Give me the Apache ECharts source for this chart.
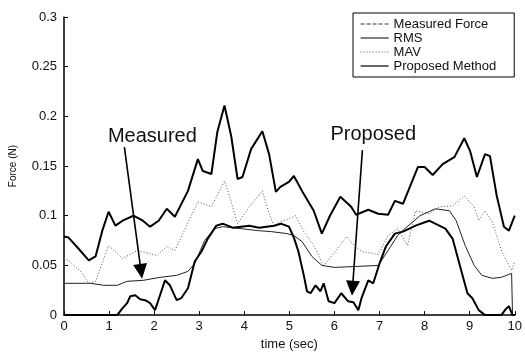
<!DOCTYPE html>
<html>
<head>
<meta charset="utf-8">
<script src="https://cdn.jsdelivr.net/npm/echarts@6/dist/echarts.min.js"></script>
<style>
html,body{margin:0;padding:0;background:#fff;}
#chart{width:525px;height:356px;}
</style>
</head>
<body>
<div id="chart"></div>
<script>
// ---- data (time in s, force in N) ----
var seriesNames = ['Measured Force', 'RMS', 'MAV', 'Proposed Method'];
var xTicks = [0,1,2,3,4,5,6,7,8,9,10];
var yTicks = [0,0.05,0.1,0.15,0.2,0.25,0.3];

var measuredData = [
  [0,0.032],[0.59,0.032],[0.88,0.030],[1.18,0.030],[1.4,0.034],[1.76,0.035],[2.13,0.038],[2.5,0.040],
  [2.75,0.044],[2.9,0.052],[3.12,0.075],[3.34,0.087],[3.52,0.089],[3.93,0.087],[4.3,0.085],[4.6,0.084],
  [4.95,0.082],[5.1,0.080],[5.28,0.074],[5.5,0.059],[5.72,0.050],[6.0,0.048],[6.5,0.049],[6.97,0.050],
  [7.19,0.065],[7.4,0.080],[7.56,0.087],[7.9,0.100],[8.24,0.107],[8.55,0.105],[8.7,0.095],[8.9,0.070],
  [9.1,0.050],[9.27,0.040],[9.5,0.037],[9.7,0.038],[9.93,0.042],[9.95,0.0],[10,0.0]
];
var rmsData = [
  [0,0.079],[0.1,0.078],[0.3,0.068],[0.55,0.055],[0.7,0.059],[0.85,0.085],[0.99,0.104],[1.14,0.090],
  [1.3,0.095],[1.54,0.100],[1.75,0.095],[1.91,0.089],[2.1,0.095],[2.28,0.107],[2.46,0.099],[2.75,0.125],
  [2.97,0.157],[3.08,0.145],[3.27,0.142],[3.4,0.184],[3.56,0.211],[3.71,0.180],[3.85,0.137],[3.96,0.139],
  [4.15,0.167],[4.4,0.185],[4.55,0.162],[4.7,0.124],[4.8,0.129],[4.99,0.134],[5.1,0.140],[5.28,0.125],
  [5.54,0.105],[5.72,0.082],[5.9,0.100],[6.13,0.119],[6.37,0.109],[6.48,0.101],[6.75,0.106],[6.97,0.102],
  [7.19,0.101],[7.34,0.115],[7.52,0.112],[7.85,0.149],[8.0,0.149],[8.18,0.141],[8.4,0.152],[8.66,0.159],
  [8.88,0.178],[9.01,0.165],[9.16,0.139],[9.34,0.162],[9.45,0.160],[9.6,0.120],[9.76,0.089],[9.87,0.085],[10,0.100]
];
var mavData = [
  [0,0.057],[0.1,0.055],[0.37,0.044],[0.55,0.032],[0.7,0.034],[0.99,0.070],[1.3,0.057],[1.63,0.065],
  [2.06,0.060],[2.28,0.069],[2.46,0.065],[2.97,0.114],[3.27,0.109],[3.56,0.135],[3.71,0.114],[3.85,0.092],
  [4.11,0.109],[4.4,0.125],[4.55,0.102],[4.66,0.090],[4.8,0.094],[4.99,0.097],[5.14,0.100],[5.32,0.084],
  [5.54,0.070],[5.76,0.050],[6.02,0.064],[6.27,0.079],[6.46,0.069],[6.6,0.064],[6.97,0.061],[7.19,0.080],
  [7.4,0.087],[7.62,0.070],[7.8,0.105],[8.1,0.102],[8.33,0.109],[8.62,0.110],[8.88,0.120],[9.1,0.109],
  [9.2,0.095],[9.34,0.105],[9.5,0.094],[9.71,0.064],[9.93,0.045],[10,0.054]
];
var proposedData = [
  [0,0],[1.18,0],[1.3,0.007],[1.4,0.012],[1.47,0.019],[1.58,0.020],[1.69,0.016],[1.8,0.015],[1.91,0.012],
  [2.02,0.005],[2.13,0.020],[2.24,0.035],[2.35,0.030],[2.5,0.015],[2.6,0.017],[2.75,0.027],[2.9,0.054],
  [3.05,0.064],[3.19,0.077],[3.38,0.090],[3.52,0.092],[3.74,0.088],[4.11,0.090],[4.33,0.088],[4.66,0.090],
  [4.81,0.092],[4.99,0.089],[5.1,0.078],[5.2,0.064],[5.32,0.040],[5.39,0.024],[5.47,0.022],[5.58,0.030],
  [5.69,0.024],[5.76,0.032],[5.87,0.014],[6.0,0.012],[6.15,0.022],[6.3,0.014],[6.42,0.013],[6.53,0.005],
  [6.6,0.017],[6.75,0.035],[6.86,0.032],[7.0,0.052],[7.14,0.069],[7.34,0.082],[7.52,0.084],[7.8,0.090],
  [8.1,0.095],[8.46,0.087],[8.62,0.077],[8.8,0.047],[8.95,0.022],[9.06,0.017],[9.2,0.005],[9.34,0],
  [9.7,0],[9.8,0.006],[9.87,0.009],[9.95,0],[10,0]
];

// annotations (data coordinates)
var measuredArrow = [[1.34,0.169],[1.71,0.044]];
var measuredText = [1.96,0.18];
var proposedArrow = [[6.62,0.166],[6.40,0.027]];
var proposedText = [6.86,0.182];

var FONT = '"Liberation Sans", Arial, Helvetica, sans-serif';
var chart = echarts.init(document.getElementById('chart'), null, {renderer:'canvas'});

function arrow(a){
  return [{coord:a[0], symbol:'none'},{coord:a[1], symbol:'triangle', symbolSize:[14,15]}];
}

chart.setOption({
  animation:false,
  backgroundColor:'#fff',
  color:['#222','#000','#555','#000'],
  grid:{left:63, right:7, top:17, bottom:39, containLabel:false},
  legend:{
    orient:'vertical', left:353, top:13,
    backgroundColor:'#fff', borderColor:'#000', borderWidth:1, borderRadius:0,
    padding:[4,18,4,7], itemGap:0, itemWidth:28, itemHeight:10,
    itemStyle:{opacity:0},
    textStyle:{fontFamily:FONT, fontSize:13, color:'#111', lineHeight:14},
    data:[
      {name:'Measured Force', itemStyle:{opacity:0}, lineStyle:{type:[4,2], width:1, color:'#333'}},
      {name:'RMS', itemStyle:{opacity:0}, lineStyle:{width:1, color:'#000'}},
      {name:'MAV', itemStyle:{opacity:0}, lineStyle:{type:[1,2], width:1, color:'#555'}},
      {name:'Proposed Method', itemStyle:{opacity:0}, lineStyle:{width:1.2, color:'#000'}}
    ]
  },
  xAxis:{
    type:'value', min:0, max:10, interval:1,
    name:'time (sec)', nameLocation:'middle', nameGap:22,
    nameTextStyle:{fontFamily:FONT, fontSize:13, color:'#111'},
    axisLine:{lineStyle:{color:'#000', width:1.5}},
    axisTick:{inside:true, length:4, lineStyle:{color:'#000'}},
    axisLabel:{fontFamily:FONT, fontSize:13, color:'#111', margin:5,
      formatter:function(v){return xTicks.indexOf(v)>=0 ? String(v) : '';}},
    splitLine:{show:false}
  },
  yAxis:{
    type:'value', min:0, max:0.3, interval:0.05,
    name:'Force (N)', nameLocation:'middle', nameGap:46, nameRotate:90,
    nameTextStyle:{fontFamily:FONT, fontSize:10, color:'#111'},
    axisLine:{show:true, lineStyle:{color:'#000', width:1.5}},
    axisTick:{show:true, inside:true, length:4, lineStyle:{color:'#000'}},
    axisLabel:{fontFamily:FONT, fontSize:13, color:'#111', margin:7,
      formatter:function(v){
        for (var i=0;i<yTicks.length;i++){ if (Math.abs(yTicks[i]-v)<1e-9) return String(yTicks[i]); }
        return '';
      }},
    splitLine:{show:false}
  },
  series:[
    {name:'Measured Force', type:'line', data:measuredData, symbol:'none', z:3,
      itemStyle:{color:'#222'}, lineStyle:{color:'#222', width:1}},
    {name:'RMS', type:'line', data:rmsData, symbol:'none', z:4,
      itemStyle:{color:'#000'}, lineStyle:{color:'#000', width:2},
      markLine:{silent:true, animation:false, label:{show:false},
        lineStyle:{color:'#000', width:1.6, type:'solid'},
        data:[arrow(measuredArrow), arrow(proposedArrow)]},
      markPoint:{silent:true, animation:false, symbol:'circle', symbolSize:0,
        label:{show:true, position:'inside', formatter:'{b}', fontFamily:FONT, fontSize:20, color:'#111'},
        data:[{name:'Measured', coord:measuredText}, {name:'Proposed', coord:proposedText}]}
    },
    {name:'MAV', type:'line', data:mavData, symbol:'none', z:2,
      itemStyle:{color:'#555'}, lineStyle:{color:'#555', width:1, type:[1,2]}},
    {name:'Proposed Method', type:'line', data:proposedData, symbol:'none', z:5,
      itemStyle:{color:'#000'}, lineStyle:{color:'#000', width:2}}
  ]
});
</script>
</body>
</html>
